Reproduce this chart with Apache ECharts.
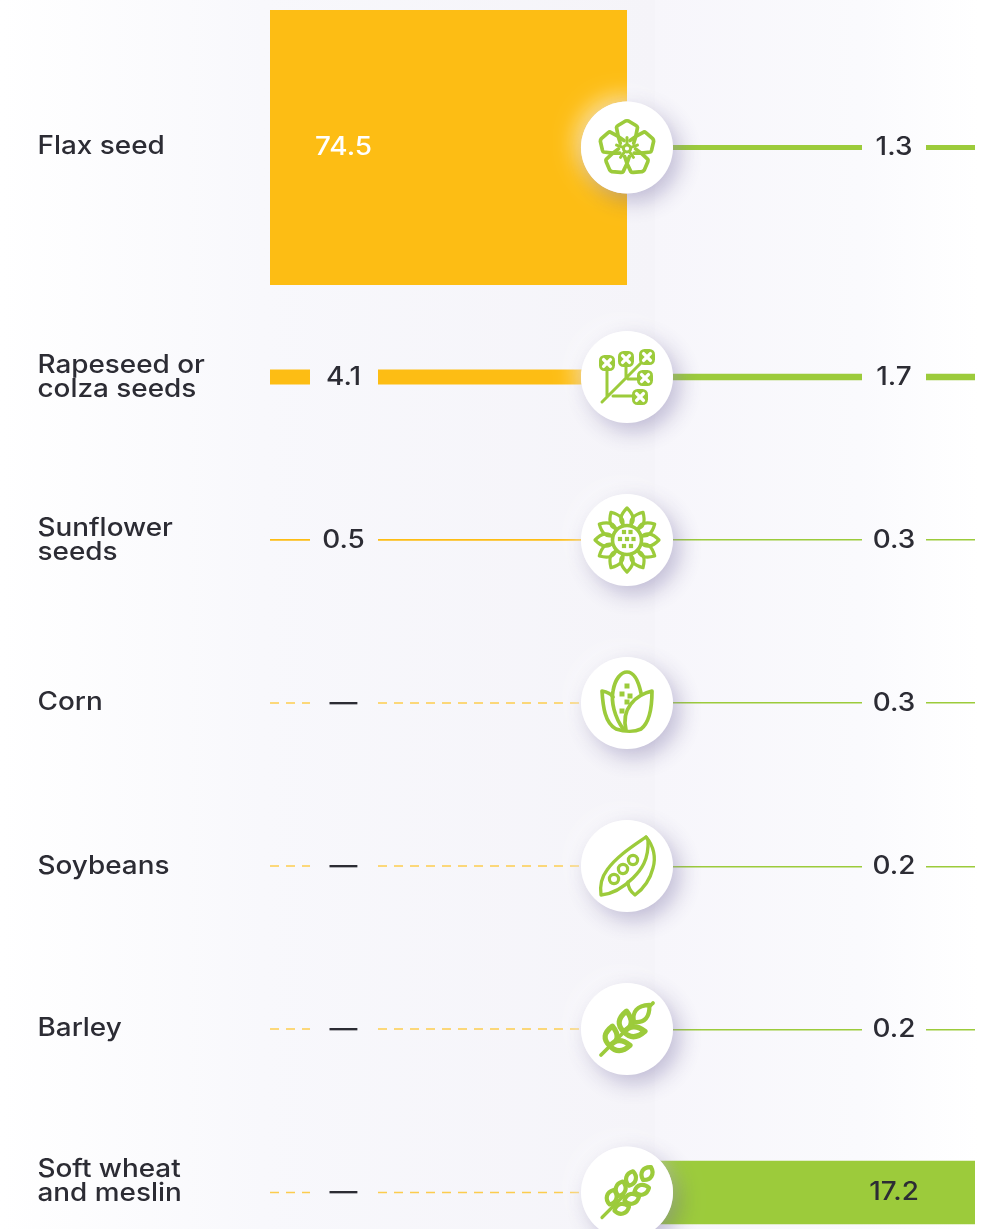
<!DOCTYPE html>
<html><head><meta charset="utf-8">
<style>html,body{margin:0;padding:0;background:#fff}#c{width:995px;height:1229px}</style>
<script src="https://cdn.jsdelivr.net/npm/echarts@6/dist/echarts.min.js"></script>
</head><body><div id="c"></div>
<script>
const categories = ['Flax seed', 'Rapeseed or\ncolza seeds', 'Sunflower\nseeds', 'Corn', 'Soybeans', 'Barley', 'Soft wheat\nand meslin'];
const leftValues = [74.5, 4.1, 0.5, null, null, null, null];
const rightValues = [1.3, 1.7, 0.3, 0.3, 0.2, 0.2, 17.2];
const rowCenters = [147.5, 377, 540, 703, 866, 1029, 1192.5];
const iconNames = ['flax', 'rapeseed', 'sunflower', 'corn', 'soy', 'barley', 'wheat'];

const YELLOW = '#fdbd14', GREEN = '#9ccb3b', INK = '#2c2c34';
const PX_PER_UNIT = 275 / 74.5;
const FONT = 'Inter, sans-serif';
const X = {labels: 37.5, lStart: 270, lGapA: 310, lGapB: 378, lLabel: 343.5, axis: 627, rGapA: 862, rGapB: 926, rLabel: 894, rEnd: 975, dashEnd: 582};
const LABEL_NUDGE = [-1.5, 0.5, 0.5, -1, 0.5, -1, -11];
const TEXT_STRETCH = 1.115;

function hbar(api, x0, x1, yc, v, color) {
  const a = api.coord([x0, yc]), b = api.coord([x1, yc]);
  let h = api.size([0, v * PX_PER_UNIT])[1];
  let top = a[1] - h / 2;
  if (h < 3) { h = Math.max(1.4, h); top = Math.round(top); }
  return {type: 'rect', shape: {x: a[0], y: top, width: b[0] - a[0], height: h}, style: {fill: color}};
}
function dashed(api, x0, x1, yc) {
  const a = api.coord([x0, yc]), b = api.coord([x1, yc]);
  return {type: 'line', shape: {x1: a[0], y1: a[1], x2: b[0], y2: b[1]},
    style: {stroke: YELLOW, opacity: 0.75, lineWidth: 1.4, lineDash: [9, 7], fill: null}};
}
function txt(api, x, yc, text, fill, align, size, lh) {
  const p = api.coord([x, yc]);
  return {type: 'text', x: p[0], y: p[1], scaleX: TEXT_STRETCH, z2: 20,
    style: {x: 0, y: 0, text: text, fill: fill, font: '450 ' + size + 'px ' + FONT, align: align, verticalAlign: 'middle', lineHeight: lh || size}};
}

const sk = {fill: 'none', stroke: GREEN, lineWidth: 3.7, lineCap: 'round', lineJoin: 'round'};
function P(d, o) { return Object.assign({type: 'path', shape: {pathData: d}, style: Object.assign({}, sk, o && o.style)}, o && o.el); }
function rad(deg) { return -deg * Math.PI / 180; }
function leaf(x, y, deg, len, w, lw) {
  return P('M0,0 Q' + (-w) + ',' + (-len * 0.42) + ' 0,' + (-len) + ' Q' + w + ',' + (-len * 0.42) + ' 0,0Z',
    {el: {x: x, y: y, rotation: rad(deg)}, style: {lineWidth: lw || 3.4, fill: '#fff'}});
}
function oval(cx, cy, deg, len, w, lw) {
  return P('M0,' + (len / 2) + ' C' + (-w) + ',' + (len / 4) + ' ' + (-w) + ',' + (-len / 4) + ' 0,' + (-len / 2) + ' C' + w + ',' + (-len / 4) + ' ' + w + ',' + (len / 4) + ' 0,' + (len / 2) + 'Z',
    {el: {x: cx, y: cy, rotation: rad(deg)}, style: {lineWidth: lw || 3.4, fill: '#fff'}});
}
function sq(x, y, s) { return {type: 'rect', shape: {x: x - s / 2, y: y - s / 2, width: s, height: s}, style: {fill: GREEN}}; }
function clover(x, y) {
  return {type: 'group', x: x, y: y, children: [
    {type: 'rect', shape: {x: -8, y: -8, width: 16, height: 16, r: 5.5}, style: {fill: GREEN}},
    P('M-3.4,-3.4L3.4,3.4M3.4,-3.4L-3.4,3.4', {style: {stroke: '#fff', lineWidth: 3.4}})
  ]};
}
const icons = {
  flax() {
    const c = [];
    for (const d of [0, 72, 144, 216, 288]) {
      c.push(P('M-3,-8 L-8.8,-12.1 L-10.5,-21 Q-10.5,-22 -9,-23 L-1.5,-27.5 Q0,-28 1.5,-27.5 L9,-23 Q10.5,-22 10.5,-21 L8.8,-12.1 L3,-8', {el: {y: 1, rotation: rad(d)}}));
      c.push(P('M0,-3 L0,-11', {el: {y: 1, rotation: rad(d)}, style: {lineWidth: 3}}));
    }
    c.push({type: 'circle', shape: {cx: 0, cy: 1, r: 3.6}, style: {fill: '#fff', stroke: GREEN, lineWidth: 3}});
    return c;
  },
  rapeseed() {
    return [
      P('M-25,25 L16,-16 M-20,20 L-20,-14 M-1,1 L-1,-17 M-14,19 L12,19 M1,2 L17,2', {style: {lineWidth: 3}}),
      clover(-20, -14), clover(-1, -18), clover(20, -20), clover(18, 1), clover(13, 20)
    ];
  },
  sunflower() {
    const c = [];
    for (let d = 0; d < 360; d += 30) {
      c.push(P('M-3.5,-15 C-8,-19 -7,-25 0,-32 C7,-25 8,-19 3.5,-15', {el: {rotation: rad(d)}, style: {lineWidth: 3.2}}));
    }
    c.push({type: 'circle', shape: {cx: 0, cy: 0, r: 14.5}, style: {fill: '#fff', stroke: GREEN, lineWidth: 3.6}});
    [[-3, -8], [3.5, -8], [-7, -1], [0, -1], [6.5, -1], [-3, 6], [4, 6]].forEach(p => c.push(sq(p[0], p[1], 4.2)));
    return c;
  },
  corn() {
    return [
      P('M-3,27 C-13,14 -16,-2 -14,-12 C-12,-24 -6,-31 0,-31 C6,-31 11,-24 14,-10'),
      P('M-25,-12 C-19,-11 -16,-9 -14,-6 M-25,-12 C-24,4 -22,20 -11,26 C-2,29 8,29 14,26 C22,20 25,6 25,-12 C8,-8 -6,6 -1,27'),
      sq(0, -17, 5), sq(-5, -9, 5), sq(3, -7, 5), sq(0, -1, 5), sq(-5, 8, 5)
    ];
  },
  soy() {
    const rings = [[-13, 13], [-4, 3], [6, -6]].map(p => ({type: 'circle', shape: {cx: p[0], cy: p[1], r: 4.6}, style: {fill: '#fff', stroke: GREEN, lineWidth: 3.2}}));
    return [
      P('M19,-29 C6,-20 -10,-10 -20,4 C-26,12 -27,22 -26,29 C-14,28 -2,20 6,12 C14,4 22,-6 21,-26 Z', {style: {lineWidth: 3.3}}),
      P('M19,-29 C27,-20 29,-8 26,2 C23,14 16,23 8,29 C4,26 1,21 1,16', {style: {lineWidth: 3.3}})
    ].concat(rings);
  },
  barley() {
    return [
      P('M-26,26 L26,-26', {style: {lineWidth: 3.8}}),
      leaf(7, -7, 42, 23, 13, 4.2),
      leaf(-3, 3, 7, 21, 12, 5.2), leaf(-3, 3, 88, 21, 10, 5.2),
      leaf(-17, 17, 7, 20, 12, 5.2), leaf(-17, 17, 88, 20, 10, 5.2)
    ];
  },
  wheat() {
    return [
      P('M-25,25 L-3,3', {style: {lineWidth: 3.2}}),
      oval(20, -19, 32, 15, 7, 4.2),
      oval(4, -14, 15, 15, 6.5, 4.2), oval(-6.3, -3.7, 15, 15, 6.5, 4.2), oval(-15.3, 4.7, 15, 15, 6.5, 4.2),
      oval(14.7, -2.7, 75, 15, 6.5, 4.2), oval(4.7, 6.3, 75, 15, 6.5, 4.2), oval(-5.3, 16.3, 75, 15, 6.5, 4.2)
    ];
  }
};

const rowData = categories.map((c, i) => [X.axis, rowCenters[i]]);
function custom(z, renderItem) {
  return {type: 'custom', coordinateSystem: 'cartesian2d', clip: false, silent: true, z: z, animation: false,
    encode: {x: 0, y: 1}, data: rowData, renderItem: renderItem};
}
const chart = echarts.init(document.getElementById('c'), null, {renderer: 'canvas'});
chart.setOption({
  animation: false,
  graphic: {elements: [
    {type: 'rect', z: -10, silent: true, shape: {x: 0, y: 0, width: 655, height: 1229},
      style: {fill: new echarts.graphic.LinearGradient(0, 0, 1, 0, [{offset: 0, color: '#ffffff'}, {offset: 0.4, color: '#f8f8fc'}, {offset: 1, color: '#f5f4f9'}])}},
    {type: 'rect', z: -10, silent: true, shape: {x: 655, y: 0, width: 340, height: 1229},
      style: {fill: new echarts.graphic.LinearGradient(0, 0, 1, 0, [{offset: 0, color: '#f7f6fb'}, {offset: 0.6, color: '#fafafd'}, {offset: 0.95, color: '#ffffff'}, {offset: 1, color: '#ffffff'}])}}
  ]},
  grid: {left: 0, right: 0, top: 0, bottom: 0, containLabel: false},
  xAxis: {type: 'value', min: 0, max: 995, show: false},
  yAxis: {type: 'value', min: 0, max: 1229, inverse: true, show: false},
  series: [
    custom(2, (p, api) => {
      const i = p.dataIndex, v = leftValues[i], y = rowCenters[i];
      if (v == null) return {type: 'group', children: [dashed(api, X.lStart, X.lGapA, y), dashed(api, X.lGapB, X.dashEnd, y)]};
      if (v > 20) return hbar(api, X.lStart, X.axis, y, v, YELLOW);
      return {type: 'group', children: [hbar(api, X.lStart, X.lGapA, y, v, YELLOW), hbar(api, X.lGapB, X.axis, y, v, YELLOW)]};
    }),
    custom(2, (p, api) => {
      const i = p.dataIndex, v = rightValues[i], y = rowCenters[i];
      if (v > 10) return hbar(api, X.axis, X.rEnd, y, v, GREEN);
      return {type: 'group', children: [hbar(api, X.axis, X.rGapA, y, v, GREEN), hbar(api, X.rGapB, X.rEnd, y, v, GREEN)]};
    }),
    custom(5, (p, api) => {
      const i = p.dataIndex, y = rowCenters[i];
      const v = leftValues[i], r = rightValues[i];
      return {type: 'group', children: [
        txt(api, X.labels, y + LABEL_NUDGE[i], categories[i], INK, 'left', 25, 24.5),
        txt(api, X.lLabel, y, v == null ? '—' : String(v), v > 20 ? '#ffffff' : INK, 'center', 25),
        txt(api, X.rLabel, y, String(r), INK, 'center', 25)
      ]};
    }),
    custom(8, (p, api) => {
      const i = p.dataIndex, c = api.coord([X.axis, rowCenters[i]]);
      return {type: 'group', x: c[0], y: c[1], children: [
        {type: 'circle', shape: {cx: 0, cy: 0, r: 46}, style: {fill: '#fff', shadowBlur: 22, shadowColor: 'rgba(255,255,255,0.6)', shadowOffsetX: -5, shadowOffsetY: -5}},
        {type: 'circle', shape: {cx: 0, cy: 0, r: 46}, style: {fill: '#fff', shadowBlur: 22, shadowColor: 'rgba(70,60,130,0.32)', shadowOffsetX: 7, shadowOffsetY: 8}},
        {type: 'group', children: icons[iconNames[i]]()}
      ]};
    })
  ]
});
</script></body></html>
